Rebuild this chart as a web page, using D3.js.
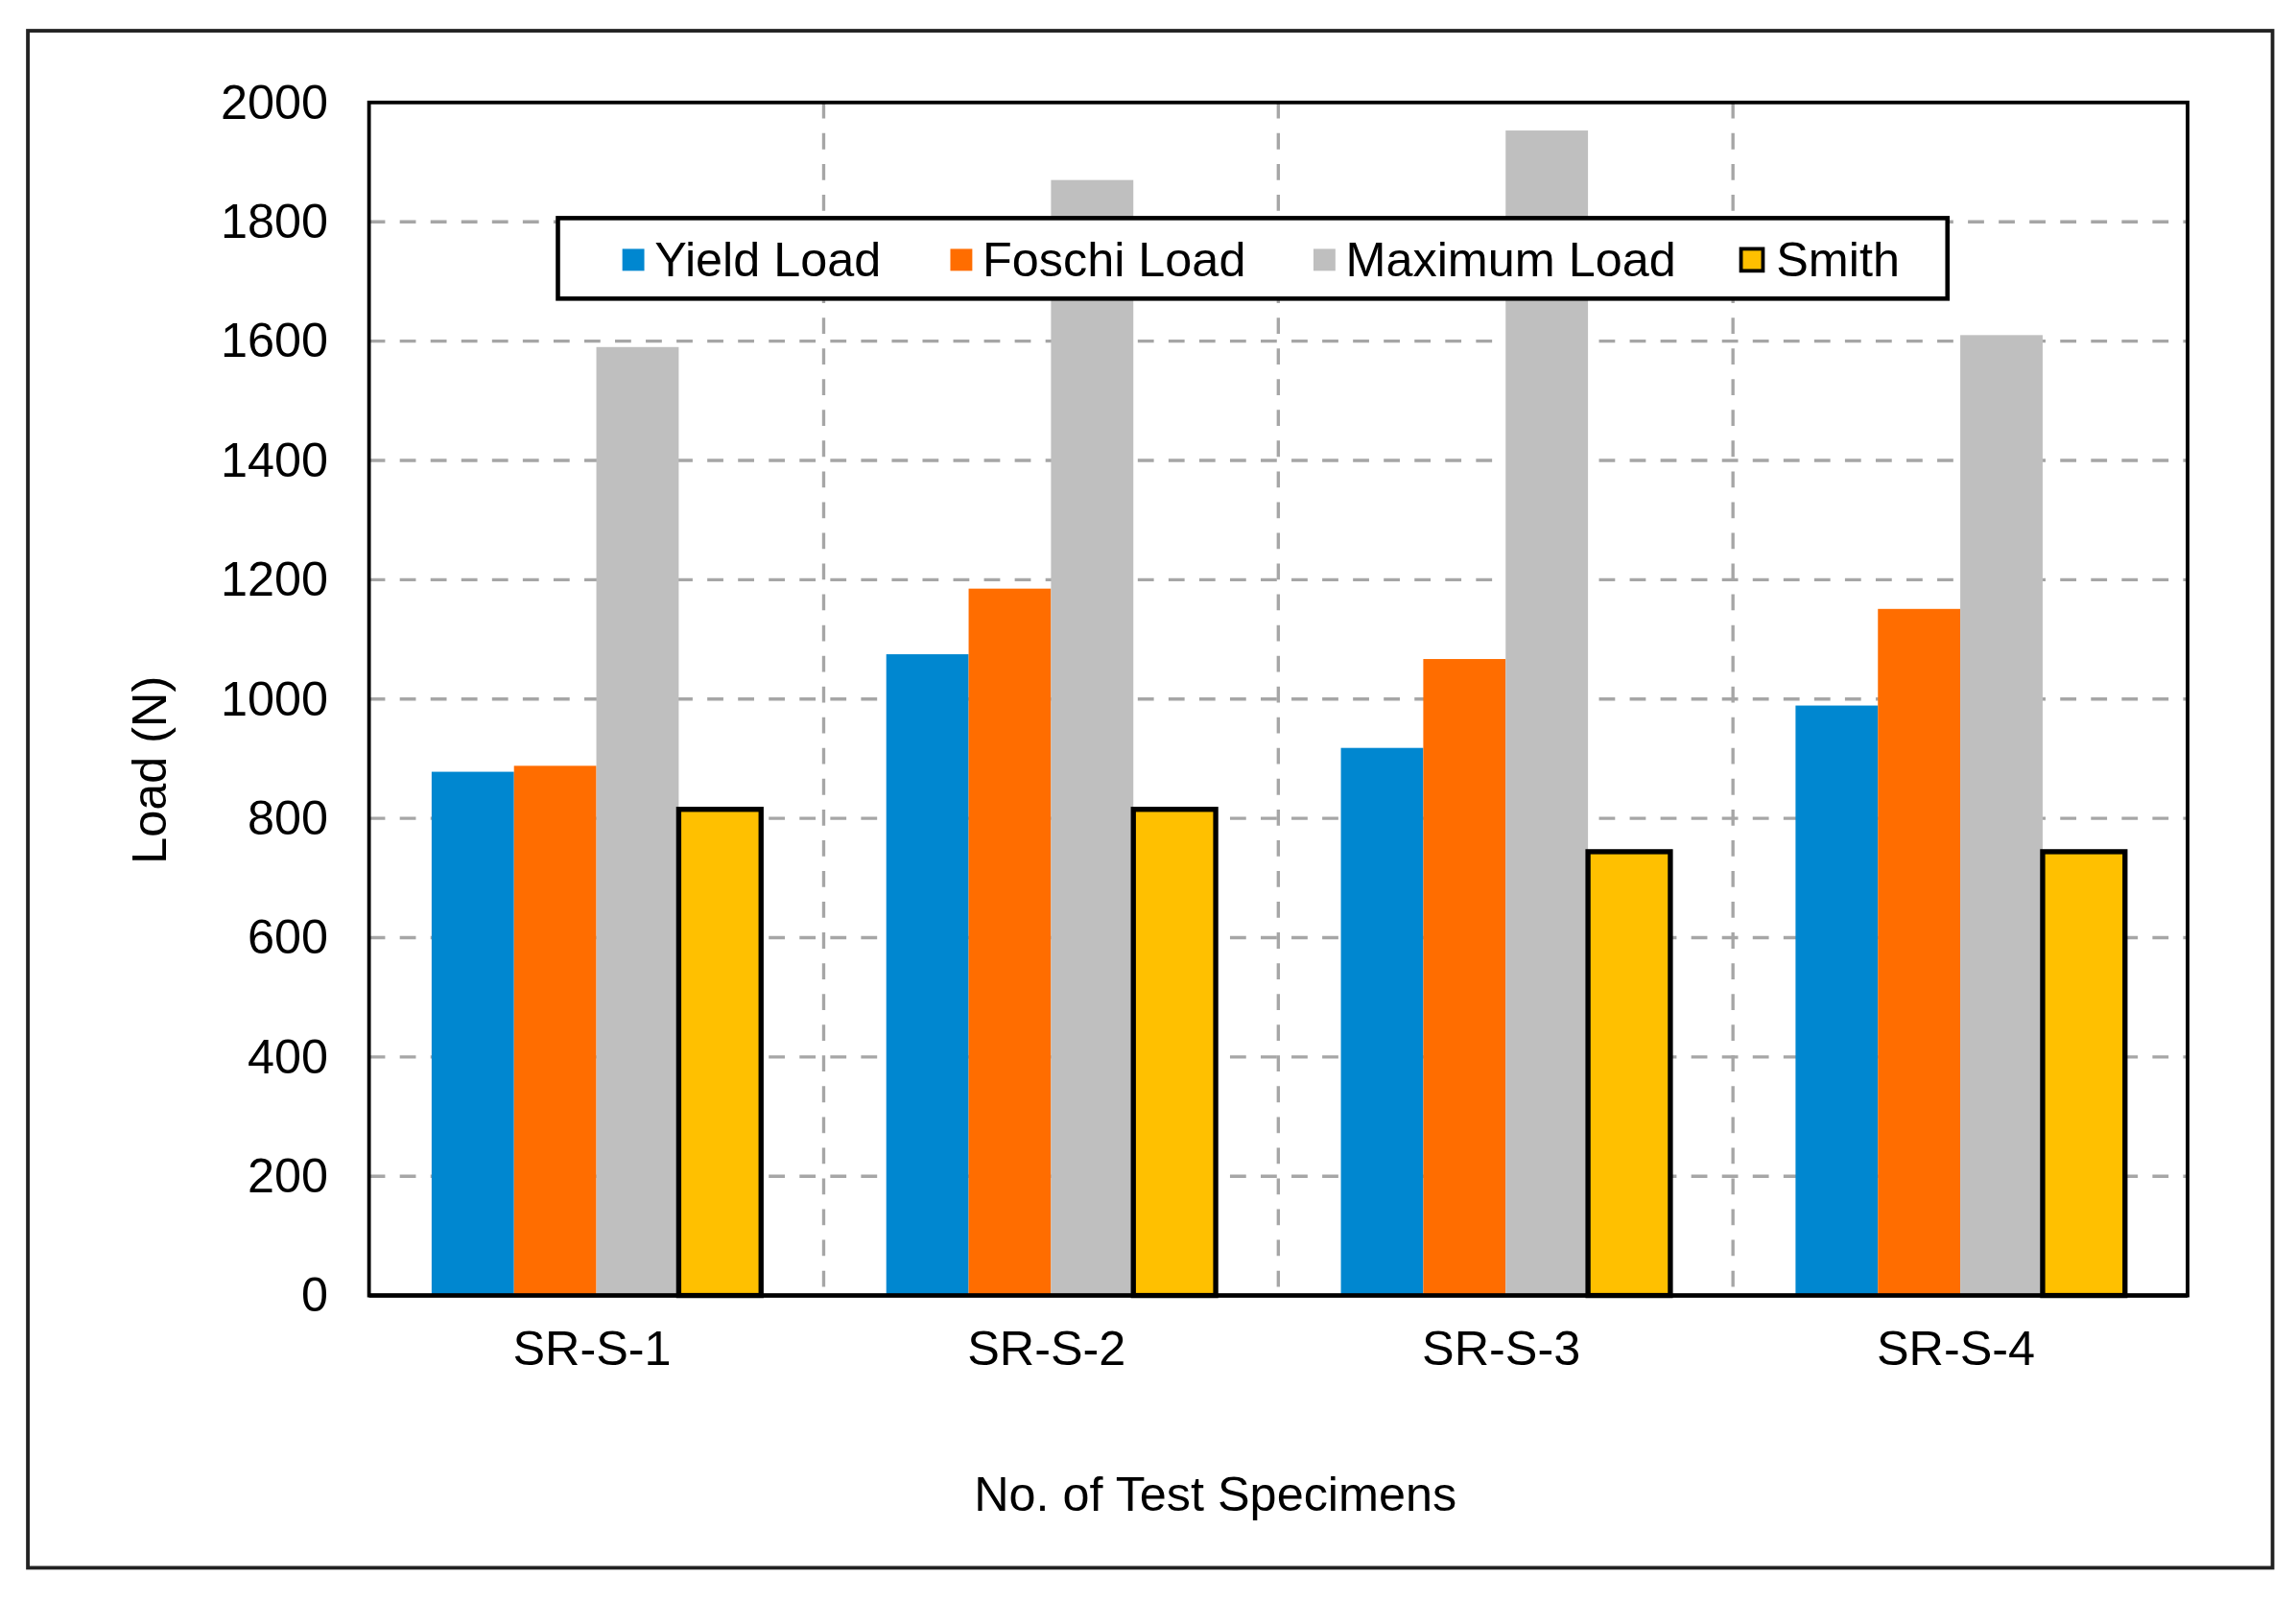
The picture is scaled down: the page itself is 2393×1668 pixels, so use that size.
<!DOCTYPE html>
<html lang="en">
<head>
    <meta charset="UTF-8">
    <title>Load of Test Specimens</title>
    <style>
        body {
            margin: 0;
            background: #fff;
            font-family: "Liberation Sans", Arial, sans-serif;
        }
    </style>
</head>
<body>
    <div id="chart"></div>

    <script src="https://d3js.org/d3.v7.min.js"></script>
    <script>
        const categories = ["SR-S-1", "SR-S-2", "SR-S-3", "SR-S-4"];
        const seriesNames = ["Yield Load", "Foschi Load", "Maximum Load", "Smith"];
        const yieldLoad = [878, 1075, 918, 989];
        const foschiLoad = [888, 1185, 1067, 1151];
        const maximumLoad = [1590, 1870, 1953, 1610];
        const smithLoad = [815, 815, 744, 744];
        const yTicks = [0, 200, 400, 600, 800, 1000, 1200, 1400, 1600, 1800, 2000];
        const colors = ["#0087d0", "#ff6d00", "#bfbfbf", "#ffc000"];

        const seriesValues = [yieldLoad, foschiLoad, maximumLoad, smithLoad];

        // drawn in a 1568 wide coordinate space, scaled to the window
        const W = 1568, H = 1093;
        const plot = { left: 252, right: 1494, top: 70, bottom: 885 };

        const svg = d3.select("#chart").append("svg")
            .attr("width", 2393)
            .attr("height", 1668)
            .attr("viewBox", `0 0 ${W} ${H}`)
            .style("display", "block");

        svg.append("rect")
            .attr("x", 19).attr("y", 21)
            .attr("width", 1533).attr("height", 1050)
            .attr("fill", "#fff")
            .attr("stroke", "#222")
            .attr("stroke-width", 2.5);

        const x0 = d3.scaleBand()
            .domain(categories)
            .range([plot.left, plot.right]);

        const x1 = d3.scaleBand()
            .domain(seriesNames)
            .range([0, x0.bandwidth()])
            .paddingOuter(0.76);

        const y = d3.scaleLinear()
            .domain([0, 2000])
            .range([plot.bottom, plot.top]);

        // grid
        const grid = svg.append("g");
        grid.selectAll("line.h")
            .data(yTicks.slice(1, -1))
            .enter().append("line")
            .attr("x1", plot.left).attr("x2", plot.right)
            .attr("y1", d => y(d)).attr("y2", d => y(d))
            .attr("stroke", "#a6a6a6")
            .attr("stroke-width", 2.2)
            .attr("stroke-dasharray", "11,10");

        grid.selectAll("line.v")
            .data(categories.slice(1))
            .enter().append("line")
            .attr("x1", d => x0(d)).attr("x2", d => x0(d))
            .attr("y1", plot.top).attr("y2", plot.bottom)
            .attr("stroke", "#a6a6a6")
            .attr("stroke-width", 2.2)
            .attr("stroke-dasharray", "11,10");

        // bars
        const rows = [];
        categories.forEach((c, i) => {
            seriesNames.forEach((s, j) => {
                rows.push({ cat: c, series: s, idx: j, value: seriesValues[j][i] });
            });
        });

        svg.append("g")
            .selectAll("rect")
            .data(rows)
            .enter().append("rect")
            .attr("x", d => x0(d.cat) + x1(d.series))
            .attr("y", d => y(d.value))
            .attr("width", x1.bandwidth())
            .attr("height", d => y(0) - y(d.value))
            .attr("fill", d => colors[d.idx])
            .attr("stroke", d => d.series === "Smith" ? "#000" : "none")
            .attr("stroke-width", 3.5);

        // plot frame
        svg.append("rect")
            .attr("x", plot.left).attr("y", plot.top)
            .attr("width", plot.right - plot.left)
            .attr("height", plot.bottom - plot.top)
            .attr("fill", "none")
            .attr("stroke", "#000")
            .attr("stroke-width", 2.5);

        svg.append("line")
            .attr("x1", plot.left).attr("x2", plot.right)
            .attr("y1", plot.bottom).attr("y2", plot.bottom)
            .attr("stroke", "#000")
            .attr("stroke-width", 3);

        // y axis
        const yAxis = svg.append("g")
            .attr("transform", `translate(${plot.left},0)`)
            .call(d3.axisLeft(y).tickValues(yTicks).tickFormat(d3.format("d"))
                .tickSize(0).tickPadding(28));
        yAxis.select(".domain").remove();
        yAxis.selectAll("text")
            .attr("font-family", "'Liberation Sans', Arial, sans-serif")
            .attr("font-size", 33)
            .attr("fill", "#000");

        // x axis
        const xAxis = svg.append("g")
            .attr("transform", `translate(0,${plot.bottom})`)
            .call(d3.axisBottom(x0).tickSize(0).tickPadding(24));
        xAxis.select(".domain").remove();
        xAxis.selectAll("text")
            .attr("font-family", "'Liberation Sans', Arial, sans-serif")
            .attr("font-size", 33)
            .attr("fill", "#000")
            .attr("dx", -3);

        svg.append("text")
            .attr("transform", "translate(113,526) rotate(-90)")
            .attr("text-anchor", "middle")
            .attr("font-size", 33)
            .text("Load (N)");

        svg.append("text")
            .attr("x", 830).attr("y", 1032)
            .attr("text-anchor", "middle")
            .attr("font-size", 33)
            .text("No. of Test Specimens");

        // legend
        const legend = svg.append("g");
        legend.append("rect")
            .attr("x", 381).attr("y", 149)
            .attr("width", 949).attr("height", 55)
            .attr("fill", "#fff")
            .attr("stroke", "#000")
            .attr("stroke-width", 3);

        const legendX = [425, 649, 897, 1189];
        const item = legend.selectAll("g.item")
            .data(seriesNames)
            .enter().append("g")
            .attr("transform", (d, i) => `translate(${legendX[i]},0)`);

        item.append("rect")
            .attr("x", 0).attr("y", 170)
            .attr("width", 15).attr("height", 15)
            .attr("fill", (d, i) => colors[i])
            .attr("stroke", d => d === "Smith" ? "#000" : "none")
            .attr("stroke-width", 2.5);

        item.append("text")
            .attr("x", d => d === "Smith" ? 24 : 22)
            .attr("y", 189)
            .attr("font-size", 33)
            .text(d => d);
    </script>
</body>
</html>
